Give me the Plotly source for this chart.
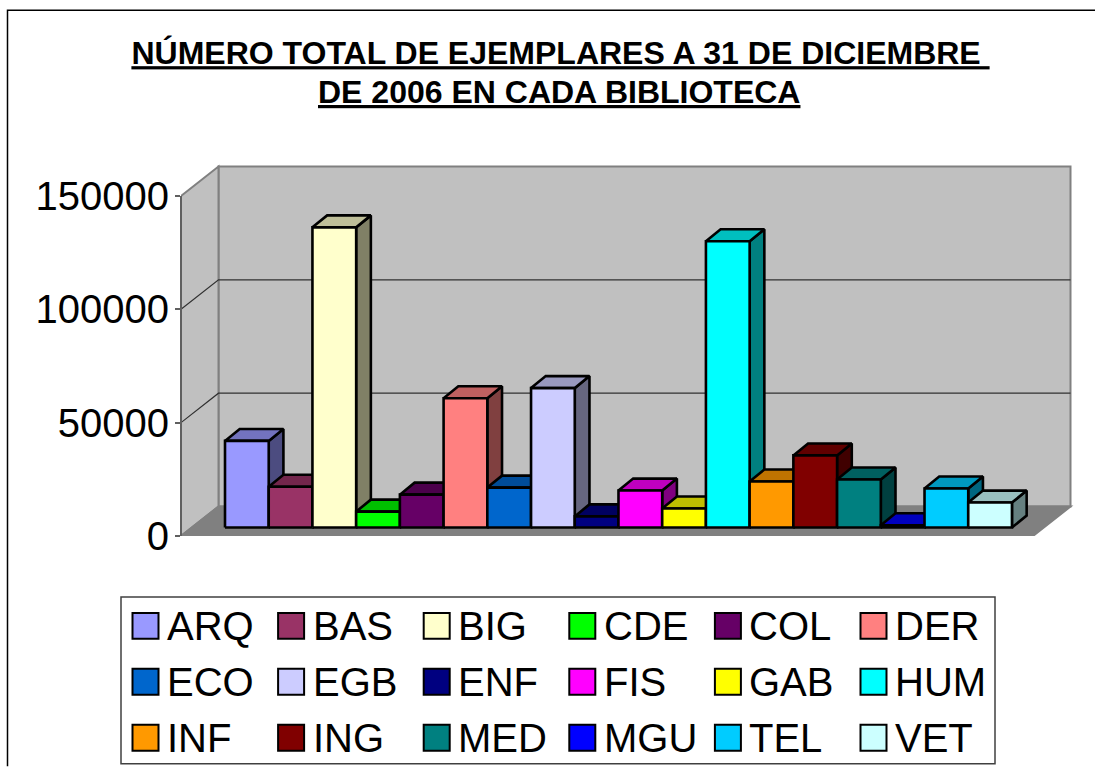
import plotly.graph_objects as go

# ---- data ----
libraries = ["ARQ", "BAS", "BIG", "CDE", "COL", "DER", "ECO", "EGB", "ENF",
             "FIS", "GAB", "HUM", "INF", "ING", "MED", "MGU", "TEL", "VET"]
copies = [38200, 18000, 132400, 7000, 14500, 57000, 17600, 61500, 4900,
          16300, 8400, 126300, 20300, 31800, 21200, 1000, 17200, 11000]
colors = ["#9999FF", "#993366", "#FFFFCC", "#00FF00", "#660066", "#FF8080",
          "#0066CC", "#CCCCFF", "#000080", "#FF00FF", "#FFFF00", "#00FFFF",
          "#FF9900", "#800000", "#008080", "#0000FF", "#00CCFF", "#CCFFFF"]
tick_values = [0, 50000, 100000, 150000]
title_lines = ["NÚMERO TOTAL DE EJEMPLARES A 31 DE DICIEMBRE\u00a0",
               "DE 2006 EN CADA BIBLIOTECA"]

# ---- layout geometry (pixels on the 1095x767 page) ----
W, H = 1095, 767
PL, PR, PT, PB = 181.0, 1076.0, 160.0, 536.5     # plot area
PX_PER_CAT = 43.72
BAR0_LEFT = 225.0
PX_PER_VAL = 340.5 / 150000

x_at = lambda px: (px - BAR0_LEFT) / PX_PER_CAT
xrange_ = [x_at(PL), x_at(PR)]
yrange_ = [0, (PB - PT) / PX_PER_VAL]
dxu = lambda px: px / PX_PER_CAT
dyu = lambda px: px / PX_PER_VAL
xp = lambda px: (px - PL) / (PR - PL)
yp = lambda py: (PB - py) / (PB - PT)

WALL_DX, WALL_DY = dxu(37.5), dyu(29.5)
BAR_DX, BAR_DY = dxu(14.7), dyu(12)
BAR_BASE = dyu(8.5)
FLOOR_RIGHT = x_at(1033)
FLOOR_LEFT = xrange_[0]


def shade(hex_color, factor):
    r, g, b = (int(hex_color[i:i + 2], 16) for i in (1, 3, 5))
    return f"rgb({round(r * factor)},{round(g * factor)},{round(b * factor)})"


def path(points):
    return "M" + "L".join(f"{a},{b}" for a, b in points) + "Z"


shapes = []
annotations = []
WALL_LINE = "#808080"

# walls and floor
back = [(FLOOR_LEFT + WALL_DX, WALL_DY), (FLOOR_RIGHT + WALL_DX, WALL_DY),
        (FLOOR_RIGHT + WALL_DX, 150000 + WALL_DY), (FLOOR_LEFT + WALL_DX, 150000 + WALL_DY)]
side = [(FLOOR_LEFT, 0), (FLOOR_LEFT + WALL_DX, WALL_DY),
        (FLOOR_LEFT + WALL_DX, 150000 + WALL_DY), (FLOOR_LEFT, 150000)]
floor = [(FLOOR_LEFT, 0), (FLOOR_RIGHT, 0), (FLOOR_RIGHT + WALL_DX, WALL_DY), (FLOOR_LEFT + WALL_DX, WALL_DY)]
for pts, fill in ((back, "#C0C0C0"), (side, "#C0C0C0"), (floor, "#808080")):
    shapes.append(dict(type="path", path=path(pts), xref="x", yref="y", layer="below",
                       fillcolor=fill, line=dict(color=WALL_LINE, width=2)))

# gridlines on the side and back walls
for t in tick_values[1:3]:
    shapes.append(dict(type="path", xref="x", yref="y", layer="below",
                       path=f"M{FLOOR_LEFT},{t}L{FLOOR_LEFT + WALL_DX},{t + WALL_DY}L{FLOOR_RIGHT + WALL_DX},{t + WALL_DY}",
                       line=dict(color="#303030", width=1.2)))
# value axis line
shapes.append(dict(type="line", xref="paper", yref="y", x0=0, x1=0, y0=0, y1=150000,
                   line=dict(color="#606060", width=2)))

# chart-area border (top and left only are on the page)
shapes.append(dict(type="path", xref="paper", yref="paper",
                   path=f"M{xp(7.5)},{yp(H)}L{xp(7.5)},{yp(10)}L{xp(W)},{yp(10)}",
                   line=dict(color="#000000", width=1.5)))

fig = go.Figure()

# 3-D columns drawn left to right so each one overlaps the previous
for i, (name, v, c) in enumerate(zip(libraries, copies, colors)):
    x0, x1 = i, i + 1
    b, t = BAR_BASE, BAR_BASE + v
    faces = [
        ([x1, x1 + BAR_DX, x1 + BAR_DX, x1, x1], [b, b + BAR_DY, t + BAR_DY, t, b], shade(c, 0.5)),
        ([x0, x1, x1 + BAR_DX, x0 + BAR_DX, x0], [t, t, t + BAR_DY, t + BAR_DY, t], shade(c, 0.75)),
        ([x0, x1, x1, x0, x0], [b, b, t, t, b], c),
    ]
    for xs, ys, fill in faces:
        fig.add_trace(go.Scatter(x=xs, y=ys, mode="lines", fill="toself", fillcolor=fill,
                                 line=dict(color="#000000", width=2.6), name=name,
                                 showlegend=False, hoveron="fills",
                                 text=f"{name}: {v}", hoverinfo="text"))

# legend: 6 columns x 3 rows in a box
LEG_L, LEG_R, LEG_T, LEG_B = 121.0, 995.0, 597.5, 764.5
COL_STEP, ROW_STEP, SW = 145.6, 56.0, 26
shapes.append(dict(type="rect", xref="paper", yref="paper", x0=xp(LEG_L), x1=xp(LEG_R),
                   y0=yp(LEG_B), y1=yp(LEG_T), fillcolor="#FFFFFF",
                   line=dict(color="#404040", width=1.5)))
for i, (name, c) in enumerate(zip(libraries, colors)):
    col, row = i % 6, i // 6
    sx = 132.5 + col * COL_STEP
    sy = 613.5 + row * ROW_STEP
    shapes.append(dict(type="rect", xref="paper", yref="paper", x0=xp(sx), x1=xp(sx + SW),
                       y0=yp(sy + SW), y1=yp(sy), fillcolor=c,
                       line=dict(color="#000000", width=2)))
    annotations.append(dict(text=name, xref="paper", yref="paper", x=xp(sx + 32.5), y=yp(sy + 13),
                            xanchor="left", yanchor="middle", showarrow=False,
                            font=dict(family="Liberation Sans, Arial", size=40, color="#000000")))

# second title line, spaced like the reference
TITLE_FONT = dict(family="Liberation Sans, Arial", size=32, color="#000000")
annotations.append(dict(text=f"<b><u>{title_lines[1]}</u></b>", xref="paper", yref="paper",
                        x=xp(558.5), y=yp(92), xanchor="center", yanchor="middle",
                        showarrow=False, font=TITLE_FONT))

fig.update_layout(
    width=W, height=H, autosize=False,
    margin=dict(l=PL, r=W - PR, t=PT, b=H - PB, pad=0),
    paper_bgcolor="#FFFFFF", plot_bgcolor="rgba(0,0,0,0)",
    showlegend=False, shapes=shapes, annotations=annotations,
    title=dict(text=f"<b><u>{title_lines[0]}</u></b>",
               x=560.5 / W, xanchor="center", xref="container",
               y=1 - 53 / H, yanchor="middle", yref="container",
               font=TITLE_FONT),
    xaxis=dict(range=xrange_, visible=False, fixedrange=True),
    yaxis=dict(range=yrange_, tickmode="array", tickvals=tick_values,
               ticktext=[str(t) for t in tick_values], ticks="outside", ticklen=5,
               tickwidth=1.5, tickcolor="#606060", showgrid=False, zeroline=False,
               showline=False, fixedrange=True, ticklabelstandoff=-2,
               tickfont=dict(family="Liberation Sans, Arial", size=40, color="#000000")),
)

fig.write_html("out.html", post_script="document.body.style.margin='0';document.body.style.overflow='hidden';",
               config=dict(displayModeBar=False))
